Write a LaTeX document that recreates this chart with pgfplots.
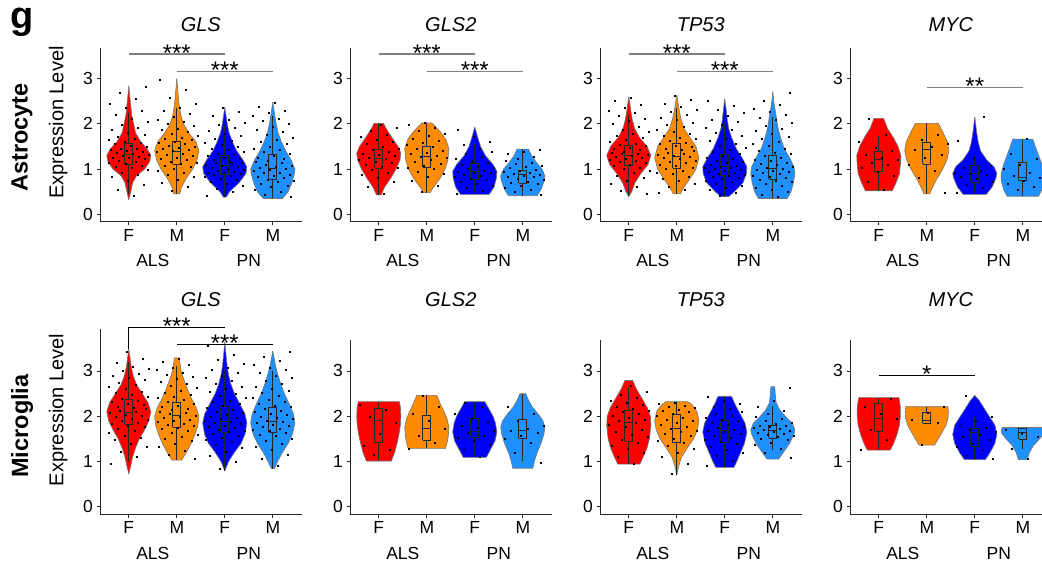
\documentclass[border=0pt]{standalone}
\usepackage{pgfplots}
\pgfplotsset{compat=1.18}
\usepgfplotslibrary{fillbetween}
\usepackage{pgfplotstable}
\usepackage{fontspec}
\setmainfont{Liberation Sans}

\definecolor{cR}{HTML}{FF0000}
\definecolor{cO}{HTML}{FF8C00}
\definecolor{cB}{HTML}{0000FF}
\definecolor{cL}{HTML}{1E90FF}

\newcommand{\fT}{\fontsize{17.5}{20}\selectfont}
\newcommand{\fS}{\fontsize{24}{26}\selectfont}

% ---------- Astrocyte GLS
\pgfplotstableread{
y w
0.32 0
0.5 0.04
0.7 0.08
0.85 0.16
1.0 0.33
1.15 0.43
1.3 0.46
1.45 0.38
1.6 0.25
1.8 0.14
2.0 0.10
2.2 0.06
2.5 0.03
2.84 0
}\AGa
\pgfplotstableread{
y w
0.45 0
0.45 0.06
0.6 0.10
0.8 0.20
1.0 0.33
1.2 0.42
1.4 0.46
1.6 0.40
1.8 0.25
2.0 0.14
2.2 0.08
2.5 0.04
3.0 0
}\AGb
\pgfplotstableread{
y w
0.38 0
0.38 0.03
0.5 0.10
0.7 0.30
0.9 0.44
1.05 0.46
1.2 0.38
1.4 0.25
1.6 0.16
1.8 0.09
2.0 0.05
2.37 0
}\AGc
\pgfplotstableread{
y w
0.35 0
0.35 0.20
0.5 0.32
0.7 0.40
0.9 0.45
1.0 0.46
1.2 0.38
1.4 0.27
1.6 0.18
1.8 0.11
2.0 0.07
2.2 0.04
2.48 0
}\AGd
% ---------- Astrocyte GLS2
\pgfplotstableread{
y w
0.43 0
0.43 0.05
0.6 0.12
0.8 0.25
1.0 0.36
1.2 0.44
1.35 0.46
1.5 0.40
1.7 0.27
1.9 0.15
2.01 0.10
2.01 0
}\AHa
\pgfplotstableread{
y w
0.48 0
0.48 0.07
0.6 0.14
0.8 0.28
1.0 0.38
1.2 0.44
1.45 0.46
1.65 0.40
1.8 0.30
1.95 0.17
2.02 0.10
2.02 0
}\AHb
\pgfplotstableread{
y w
0.44 0
0.44 0.30
0.6 0.40
0.8 0.45
0.95 0.46
1.1 0.38
1.3 0.22
1.5 0.12
1.7 0.06
1.93 0
}\AHc
\pgfplotstableread{
y w
0.41 0
0.41 0.30
0.55 0.38
0.75 0.45
0.85 0.46
1.0 0.40
1.15 0.28
1.3 0.18
1.44 0.12
1.44 0
}\AHd
% ---------- Astrocyte TP53
\pgfplotstableread{
y w
0.39 0
0.5 0.06
0.7 0.13
0.9 0.25
1.1 0.40
1.3 0.46
1.5 0.38
1.7 0.22
1.9 0.12
2.1 0.07
2.3 0.04
2.6 0
}\ATa
\pgfplotstableread{
y w
0.45 0
0.45 0.07
0.6 0.15
0.8 0.28
1.0 0.40
1.25 0.46
1.5 0.40
1.7 0.27
1.9 0.15
2.1 0.09
2.3 0.05
2.64 0
}\ATb
\pgfplotstableread{
y w
0.39 0
0.39 0.08
0.5 0.20
0.7 0.38
0.9 0.45
1.05 0.46
1.25 0.36
1.45 0.24
1.7 0.14
1.9 0.08
2.1 0.05
2.3 0.03
2.55 0
}\ATc
\pgfplotstableread{
y w
0.35 0
0.35 0.30
0.5 0.38
0.7 0.43
0.9 0.46
1.05 0.44
1.25 0.35
1.45 0.24
1.7 0.16
1.9 0.11
2.1 0.08
2.3 0.05
2.5 0.02
2.71 0
}\ATd
% ---------- Astrocyte MYC
\pgfplotstableread{
y w
0.52 0
0.52 0.28
0.7 0.36
0.9 0.43
1.1 0.45
1.3 0.46
1.5 0.40
1.7 0.30
1.9 0.18
2.12 0.10
2.12 0
}\AMa
\pgfplotstableread{
y w
0.45 0
0.45 0.06
0.6 0.12
0.8 0.22
1.0 0.33
1.2 0.42
1.4 0.46
1.6 0.43
1.8 0.34
2.01 0.24
2.01 0
}\AMb
\pgfplotstableread{
y w
0.44 0
0.44 0.24
0.6 0.36
0.8 0.44
0.9 0.46
1.05 0.40
1.2 0.25
1.4 0.12
1.6 0.07
1.8 0.04
2.15 0
}\AMc
\pgfplotstableread{
y w
0.40 0
0.40 0.33
0.55 0.40
0.75 0.45
0.9 0.45
1.1 0.40
1.3 0.33
1.5 0.26
1.66 0.21
1.66 0
}\AMd
% ---------- Microglia GLS
\pgfplotstableread{
y w
0.72 0
0.9 0.04
1.1 0.08
1.3 0.14
1.5 0.22
1.7 0.33
1.9 0.42
2.1 0.46
2.3 0.40
2.5 0.28
2.7 0.16
2.9 0.09
3.1 0.05
3.49 0
}\MGa
\pgfplotstableread{
y w
1.03 0
1.03 0.10
1.2 0.20
1.4 0.30
1.6 0.38
1.8 0.44
2.0 0.46
2.2 0.40
2.4 0.30
2.6 0.22
2.8 0.15
3.0 0.09
3.29 0.05
3.29 0
}\MGb
\pgfplotstableread{
y w
0.79 0
1.0 0.08
1.2 0.20
1.4 0.34
1.6 0.42
1.85 0.46
2.05 0.42
2.3 0.30
2.5 0.20
2.7 0.13
2.9 0.08
3.1 0.05
3.3 0.03
3.64 0
}\MGc
\pgfplotstableread{
y w
0.84 0
0.84 0.03
1.0 0.10
1.2 0.20
1.4 0.32
1.6 0.41
1.85 0.46
2.05 0.43
2.3 0.33
2.5 0.24
2.7 0.17
2.9 0.11
3.1 0.06
3.44 0
}\MGd
% ---------- Microglia GLS2
\pgfplotstableread{
y w
1.01 0
1.01 0.26
1.2 0.33
1.4 0.38
1.6 0.42
1.8 0.45
2.0 0.46
2.2 0.45
2.32 0.43
2.32 0
}\MHa
\pgfplotstableread{
y w
1.29 0
1.29 0.39
1.45 0.43
1.6 0.45
1.76 0.46
1.95 0.42
2.1 0.36
2.25 0.29
2.38 0.24
2.46 0.21
2.46 0
}\MHb
\pgfplotstableread{
y w
1.09 0
1.09 0.24
1.25 0.32
1.45 0.42
1.65 0.46
1.85 0.43
2.0 0.38
2.15 0.30
2.32 0.21
2.32 0
}\MHc
\pgfplotstableread{
y w
0.85 0
0.85 0.21
1.0 0.24
1.2 0.30
1.4 0.38
1.6 0.44
1.76 0.46
1.9 0.42
2.05 0.32
2.2 0.20
2.35 0.12
2.5 0.06
2.5 0
}\MHd
% ---------- Microglia TP53
\pgfplotstableread{
y w
0.94 0
0.94 0.23
1.1 0.30
1.3 0.38
1.5 0.43
1.8 0.46
2.0 0.45
2.2 0.38
2.4 0.27
2.6 0.16
2.79 0.08
2.79 0
}\MTa
\pgfplotstableread{
y w
0.70 0
0.9 0.04
1.1 0.10
1.3 0.22
1.5 0.35
1.7 0.43
1.9 0.46
2.1 0.42
2.25 0.32
2.32 0.23
2.32 0
}\MTb
\pgfplotstableread{
y w
0.87 0
0.87 0.19
1.0 0.25
1.2 0.33
1.4 0.41
1.65 0.46
1.85 0.42
2.05 0.32
2.25 0.22
2.44 0.14
2.44 0
}\MTc
\pgfplotstableread{
y w
1.05 0
1.05 0.12
1.2 0.22
1.4 0.35
1.6 0.44
1.7 0.46
1.85 0.40
2.0 0.26
2.15 0.14
2.3 0.07
2.5 0.05
2.65 0.04
2.65 0
}\MTd
% ---------- Microglia MYC
\pgfplotstableread{
y w
1.25 0
1.25 0.24
1.4 0.31
1.6 0.38
1.8 0.43
2.0 0.45
2.2 0.45
2.41 0.42
2.41 0
}\MMa
\pgfplotstableread{
y w
1.36 0
1.36 0.16
1.5 0.24
1.65 0.32
1.8 0.40
1.95 0.44
2.1 0.45
2.21 0.44
2.21 0
}\MMb
\pgfplotstableread{
y w
1.04 0
1.04 0.22
1.2 0.32
1.4 0.42
1.6 0.46
1.8 0.42
2.0 0.30
2.2 0.18
2.35 0.09
2.46 0
}\MMc
\pgfplotstableread{
y w
1.04 0
1.04 0.09
1.2 0.14
1.35 0.22
1.5 0.35
1.62 0.44
1.70 0.45
1.75 0.42
1.75 0
}\MMd

% ---------- jittered cells: d,e = horizontal jitter; other columns = expression values
% Aa..Ad astro GLS, Ta..Td astro TP53, Ma..Md microglia GLS
\pgfplotstableread{
d e Aa Ab Ac Ad Ta Tb Tc Td Ma Mb Mc Md
0.104 -0.380 0.42 0.52 0.42 0.38 0.45 0.48 0.42 0.38 0.95 1.06 0.85 0.90
-0.232 0.164 0.55 0.62 0.50 0.44 0.52 0.55 0.48 0.44 1.10 1.15 1.00 1.05
0.312 -0.172 0.66 0.70 0.57 0.50 0.60 0.62 0.54 0.49 1.22 1.24 1.12 1.16
-0.025 0.371 0.75 0.77 0.63 0.55 0.67 0.68 0.59 0.54 1.32 1.32 1.22 1.25
-0.361 0.035 0.82 0.83 0.68 0.60 0.74 0.74 0.64 0.59 1.40 1.39 1.30 1.33
0.183 -0.301 0.88 0.88 0.72 0.64 0.80 0.79 0.68 0.63 1.47 1.45 1.37 1.40
-0.153 0.243 0.93 0.93 0.76 0.68 0.86 0.84 0.72 0.67 1.53 1.50 1.43 1.46
0.391 -0.093 0.98 0.97 0.79 0.71 0.91 0.89 0.75 0.71 1.58 1.55 1.48 1.51
0.055 -0.429 1.02 1.01 0.82 0.74 0.96 0.93 0.78 0.74 1.63 1.60 1.53 1.56
-0.282 0.114 1.05 1.05 0.85 0.77 1.00 0.97 0.81 0.77 1.68 1.64 1.57 1.60
0.262 -0.222 1.08 1.08 0.87 0.80 1.04 1.01 0.84 0.80 1.72 1.68 1.61 1.64
-0.074 0.322 1.11 1.11 0.89 0.83 1.07 1.04 0.86 0.83 1.76 1.72 1.65 1.67
-0.410 -0.014 1.14 1.14 0.91 0.86 1.10 1.07 0.88 0.86 1.80 1.75 1.68 1.70
0.134 -0.350 1.17 1.17 0.93 0.88 1.13 1.10 0.90 0.89 1.83 1.78 1.71 1.73
-0.202 0.194 1.19 1.20 0.95 0.91 1.16 1.13 0.92 0.92 1.86 1.81 1.74 1.76
0.341 -0.143 1.22 1.23 0.97 0.93 1.19 1.16 0.94 0.95 1.89 1.84 1.77 1.79
0.005 0.401 1.24 1.26 0.99 0.96 1.21 1.19 0.96 0.97 1.92 1.87 1.80 1.82
-0.331 0.065 1.26 1.29 1.01 0.98 1.23 1.22 0.98 0.99 1.95 1.90 1.83 1.85
0.213 -0.271 1.28 1.32 1.03 1.00 1.25 1.25 1.00 1.01 1.98 1.93 1.86 1.88
-0.123 0.273 1.30 1.35 1.05 1.02 1.27 1.27 1.02 1.03 2.01 1.96 1.88 1.91
0.421 -0.063 1.32 1.38 1.07 1.05 1.29 1.29 1.04 1.06 2.04 1.99 1.91 1.94
0.084 -0.400 1.34 1.40 1.09 1.07 1.31 1.31 1.06 1.09 2.07 2.02 1.94 1.97
-0.252 0.144 1.36 1.42 1.11 1.10 1.33 1.34 1.08 1.12 2.10 2.05 1.97 2.00
0.292 -0.192 1.38 1.45 1.13 1.13 1.35 1.37 1.10 1.15 2.13 2.08 2.00 2.03
-0.044 0.352 1.40 1.47 1.15 1.16 1.37 1.40 1.13 1.18 2.16 2.11 2.03 2.06
-0.380 0.104 1.42 1.50 1.17 1.19 1.39 1.43 1.16 1.21 2.19 2.14 2.07 2.09
0.164 -0.232 1.44 1.52 1.20 1.22 1.42 1.46 1.19 1.25 2.22 2.17 2.11 2.12
-0.172 0.312 1.46 1.55 1.23 1.26 1.45 1.49 1.22 1.29 2.25 2.20 2.15 2.16
0.371 -0.025 1.49 1.58 1.26 1.30 1.48 1.52 1.26 1.33 2.28 2.24 2.19 2.20
0.035 -0.361 1.52 1.61 1.29 1.34 1.51 1.55 1.30 1.37 2.31 2.28 2.23 2.24
-0.301 0.183 1.55 1.64 1.32 1.38 1.54 1.58 1.34 1.41 2.35 2.32 2.27 2.28
0.243 -0.153 1.58 1.67 1.35 1.42 1.57 1.62 1.38 1.46 2.39 2.36 2.31 2.32
-0.093 0.391 1.61 1.70 1.38 1.46 1.61 1.66 1.42 1.51 2.43 2.40 2.35 2.36
-0.429 0.055 1.64 1.74 1.42 1.50 1.65 1.70 1.47 1.56 2.47 2.44 2.40 2.41
0.114 -0.282 1.68 1.78 1.46 1.55 1.69 1.74 1.52 1.61 2.51 2.48 2.45 2.46
-0.222 0.262 1.72 1.82 1.50 1.60 1.73 1.78 1.57 1.66 2.55 2.52 2.50 2.51
0.322 -0.074 1.76 1.86 1.54 1.65 1.78 1.83 1.62 1.72 2.60 2.57 2.55 2.56
-0.014 -0.410 1.81 1.90 1.58 1.70 1.83 1.88 1.68 1.78 2.65 2.62 2.60 2.61
-0.350 0.134 1.86 1.95 1.63 1.76 1.88 1.93 1.74 1.84 2.70 2.67 2.66 2.66
0.194 -0.202 1.92 2.00 1.68 1.82 1.94 1.98 1.80 1.90 2.75 2.72 2.72 2.72
-0.143 0.341 1.98 2.05 1.73 1.88 2.00 2.03 1.86 1.96 2.80 2.77 2.78 2.78
0.401 0.005 2.05 2.10 1.79 1.94 2.06 2.08 1.92 2.02 2.85 2.82 2.84 2.84
0.065 -0.331 2.12 2.16 1.85 2.00 2.12 2.14 1.98 2.08 2.90 2.87 2.90 2.90
-0.271 0.213 2.20 2.22 1.91 2.06 2.18 2.20 2.04 2.14 2.95 2.92 2.96 2.96
0.273 -0.123 2.28 2.28 1.97 2.12 2.24 2.26 2.10 2.20 3.00 2.97 3.02 3.02
-0.063 0.421 2.36 2.35 2.03 2.18 2.30 2.32 2.17 2.27 3.05 3.02 3.08 3.08
-0.400 0.084 2.45 2.45 2.10 2.24 2.36 2.38 2.24 2.34 3.10 3.08 3.15 3.14
0.144 -0.252 2.55 2.58 2.18 2.30 2.42 2.45 2.31 2.42 3.18 3.14 3.24 3.22
-0.192 0.292 2.68 2.75 2.27 2.38 2.50 2.53 2.40 2.52 3.28 3.20 3.36 3.32
0.352 -0.044 2.82 2.98 2.36 2.46 2.58 2.62 2.52 2.68 3.42 3.27 3.55 3.42
}\JD
% Ha..Hd astro GLS2, Qa..Qd microglia TP53
\pgfplotstableread{
d e Ha Hb Hc Hd Qa Qb Qc Qd
0.104 -0.380 0.46 0.50 0.46 0.43 0.96 0.72 0.90 1.08
-0.232 0.164 0.62 0.64 0.52 0.49 1.10 0.95 1.02 1.20
0.312 -0.172 0.72 0.74 0.58 0.54 1.20 1.10 1.12 1.29
-0.025 0.371 0.80 0.82 0.63 0.59 1.28 1.20 1.20 1.36
-0.361 0.035 0.87 0.89 0.68 0.63 1.35 1.28 1.27 1.42
0.183 -0.301 0.93 0.95 0.72 0.67 1.42 1.35 1.33 1.47
-0.153 0.243 0.98 1.00 0.76 0.70 1.48 1.41 1.39 1.51
0.391 -0.093 1.02 1.04 0.79 0.73 1.54 1.46 1.44 1.54
0.055 -0.429 1.06 1.08 0.82 0.76 1.60 1.51 1.49 1.57
-0.282 0.114 1.10 1.12 0.85 0.79 1.66 1.56 1.53 1.60
0.262 -0.222 1.13 1.16 0.88 0.82 1.71 1.61 1.57 1.62
-0.074 0.322 1.17 1.20 0.91 0.84 1.76 1.65 1.61 1.64
-0.410 -0.014 1.20 1.24 0.93 0.86 1.81 1.69 1.65 1.66
0.134 -0.350 1.23 1.27 0.95 0.88 1.85 1.73 1.68 1.68
-0.202 0.194 1.26 1.30 0.97 0.90 1.89 1.77 1.71 1.70
0.341 -0.143 1.29 1.33 1.00 0.92 1.93 1.81 1.74 1.72
0.005 0.401 1.32 1.37 1.03 0.94 1.97 1.85 1.77 1.74
-0.331 0.065 1.35 1.41 1.06 0.96 2.01 1.89 1.81 1.76
0.213 -0.271 1.38 1.45 1.09 0.99 2.05 1.93 1.85 1.78
-0.123 0.273 1.42 1.49 1.13 1.02 2.09 1.97 1.89 1.80
0.421 -0.063 1.46 1.53 1.17 1.05 2.13 2.01 1.93 1.83
0.084 -0.400 1.50 1.58 1.22 1.08 2.17 2.05 1.97 1.86
-0.252 0.144 1.55 1.63 1.27 1.11 2.21 2.09 2.01 1.90
0.292 -0.192 1.60 1.68 1.33 1.15 2.25 2.12 2.06 1.94
-0.044 0.352 1.65 1.73 1.39 1.19 2.30 2.15 2.11 1.99
-0.380 0.104 1.71 1.79 1.46 1.23 2.35 2.18 2.16 2.05
0.164 -0.232 1.77 1.85 1.53 1.28 2.41 2.21 2.21 2.12
-0.172 0.312 1.84 1.91 1.61 1.33 2.47 2.24 2.27 2.20
0.371 -0.025 1.91 1.97 1.72 1.38 2.55 2.27 2.34 2.35
0.035 -0.361 1.99 2.02 1.88 1.43 2.68 2.30 2.42 2.62
}\JM
% Ya..Yd astro MYC, Ga..Gd microglia GLS2, Za..Zd microglia MYC
\pgfplotstableread{
d e Ya Yb Yc Yd Ga Gb Gc Gd Za Zb Zc Zd
0.104 -0.380 0.55 0.48 0.47 0.55 1.15 1.28 1.10 0.98 1.26 1.38 1.05 1.05
-0.232 0.164 0.72 0.80 0.58 0.62 1.25 1.42 1.25 1.20 1.48 1.85 1.12 1.28
0.312 -0.172 0.85 0.97 0.66 0.68 1.35 1.58 1.38 1.42 1.70 1.92 1.25 1.55
-0.025 0.371 0.95 1.10 0.72 0.74 1.62 1.72 1.45 1.50 1.95 2.08 1.32 1.62
-0.361 0.035 1.02 1.25 0.78 0.80 1.85 1.90 1.52 1.58 2.05 2.20 1.40 1.70
0.183 -0.301 1.10 1.32 0.83 0.86 2.00 2.05 1.58 1.63 2.22 nan 1.48 nan
-0.153 0.243 1.15 1.42 0.87 0.93 2.15 2.20 1.63 1.67 2.38 nan 1.55 nan
0.391 -0.093 1.20 1.50 0.90 1.00 2.25 2.45 1.68 1.72 nan nan 1.60 nan
0.055 -0.429 1.25 1.55 0.93 1.10 nan nan 1.75 1.80 nan nan 1.65 nan
-0.282 0.114 1.32 1.65 0.97 1.22 nan nan 1.80 1.90 nan nan 1.70 nan
0.262 -0.222 1.40 1.75 1.02 1.35 nan nan 1.88 2.05 nan nan 1.75 nan
-0.074 0.322 1.47 nan 1.08 1.66 nan nan 1.95 2.22 nan nan 1.80 nan
-0.410 -0.014 1.60 nan 1.25 nan nan nan 2.05 nan nan nan 1.90 nan
0.134 -0.350 1.75 nan 1.62 nan nan nan 2.20 nan nan nan 2.00 nan
-0.202 0.194 2.12 nan 2.15 nan nan nan 2.30 nan nan nan 2.45 nan
}\JS

\pgfplotsset{
  vline/.style={draw=black!55, line width=0.6pt, no marks},
  vstyle/.style={
    x=48pt, y=45.25pt, xmin=0.4, xmax=4.6, ymin=-0.17, ymax=3.68,
    scale only axis, anchor=south west, clip=false, set layers,
    axis x line*=bottom, axis y line*=left,
    axis line style={black!85, line width=1pt},
    xtick={1,2,3,4}, xticklabels={F,M,F,M}, ytick={0,1,2,3},
    tick align=outside, major tick length=3.5pt,
    tick style={black!85, line width=0.8pt},
    ticklabel style={font=\fT},
    /pgf/number format/assume math mode=true,
  }
}

\newcommand{\violin}[4]{%
  \addplot[vline, name path=vr#4] table[x expr={#1+\thisrow{w}}, y=y]{#3};
  \addplot[vline, name path=vl#4] table[x expr={#1-\thisrow{w}}, y=y]{#3};
  \addplot[fill=#2, draw=none] fill between[of=vr#4 and vl#4];
}
\newcommand{\jit}[5]{%
  \addplot[only marks, mark=square*, mark size=0.5pt, mark options={draw=none, fill=black}]
    table[x expr={#2#3\thisrow{#4}}, y=#5]{#1};
}
\newcommand{\vbp}[7]{%
  \addplot[black!85, line width=0.8pt] table[row sep=\\, x expr={#1}, y=y]{y\\ #3\\ #7\\};
  \addplot[fill=#2, draw=black!85, line width=0.9pt] table[row sep=\\, x expr={#1+\thisrow{d}}, y=y]{d y\\ -0.085 #4\\ 0.085 #4\\ 0.085 #6\\ -0.085 #6\\ -0.085 #4\\};
  \addplot[black!85, line width=0.9pt] table[row sep=\\, x expr={#1+\thisrow{d}}, y=y]{d y\\ -0.085 #5\\ 0.085 #5\\};
}
\newcommand{\sig}[6]{%
  \addplot[#5, line width=#6] table[row sep=\\]{x y\\ #1 #3\\ #2 #3\\}
    node[pos=0.5, anchor=base, yshift=-7pt, font=\fS, text=black] {#4};
}
\newcommand{\grp}{%
  \node[font=\fT, anchor=base, yshift=-44.8pt] at (axis cs:1.5,-0.17) {ALS};
  \node[font=\fT, anchor=base, yshift=-44.8pt] at (axis cs:3.5,-0.17) {PN};
}

\begin{document}
\begin{tikzpicture}

% ===== Astrocyte GLS
\begin{axis}[vstyle, at={(100pt,340pt)}]
  \violin{1}{cR}{\AGa}{aga}
  \violin{2}{cO}{\AGb}{agb}
  \violin{3}{cB}{\AGc}{agc}
  \violin{4}{cL}{\AGd}{agd}
  \jit{\JD}{1}{+}{d}{Aa}
  \jit{\JD}{2}{-}{d}{Ab}
  \jit{\JD}{3}{+}{e}{Ac}
  \jit{\JD}{4}{-}{e}{Ad}
  \vbp{1}{cR}{0.44}{1.11}{1.33}{1.56}{2.23}
  \vbp{2}{cO}{0.45}{1.11}{1.39}{1.61}{2.36}
  \vbp{3}{cB}{0.38}{0.87}{1.09}{1.31}{1.97}
  \vbp{4}{cL}{0.35}{0.76}{1.02}{1.33}{2.18}
  \sig{1}{3}{3.54}{***}{black!50}{1.3pt}
  \sig{2}{4}{3.15}{***}{black!50}{1.3pt}
  \grp
\end{axis}
% ===== Astrocyte GLS2
\begin{axis}[vstyle, at={(350pt,340pt)}]
  \violin{1}{cR}{\AHa}{aha}
  \violin{2}{cO}{\AHb}{ahb}
  \violin{3}{cB}{\AHc}{ahc}
  \violin{4}{cL}{\AHd}{ahd}
  \jit{\JM}{1}{+}{d}{Ha}
  \jit{\JM}{2}{-}{d}{Hb}
  \jit{\JM}{3}{+}{e}{Hc}
  \jit{\JM}{4}{-}{e}{Hd}
  \vbp{1}{cR}{0.43}{1.02}{1.24}{1.44}{2.01}
  \vbp{2}{cO}{0.48}{1.04}{1.28}{1.51}{2.02}
  \vbp{3}{cB}{0.44}{0.78}{0.94}{1.13}{1.56}
  \vbp{4}{cL}{0.41}{0.69}{0.88}{0.98}{1.44}
  \sig{1}{3}{3.54}{***}{black!50}{1.3pt}
  \sig{2}{4}{3.15}{***}{black!50}{1.3pt}
  \grp
\end{axis}
% ===== Astrocyte TP53
\begin{axis}[vstyle, at={(600pt,340pt)}]
  \violin{1}{cR}{\ATa}{ata}
  \violin{2}{cO}{\ATb}{atb}
  \violin{3}{cB}{\ATc}{atc}
  \violin{4}{cL}{\ATd}{atd}
  \jit{\JD}{1}{-}{e}{Ta}
  \jit{\JD}{2}{+}{e}{Tb}
  \jit{\JD}{3}{-}{d}{Tc}
  \jit{\JD}{4}{+}{d}{Td}
  \vbp{1}{cR}{0.40}{1.07}{1.30}{1.52}{2.20}
  \vbp{2}{cO}{0.45}{1.02}{1.28}{1.56}{2.35}
  \vbp{3}{cB}{0.39}{0.85}{1.05}{1.33}{2.05}
  \vbp{4}{cL}{0.35}{0.77}{1.02}{1.31}{2.16}
  \sig{1}{3}{3.54}{***}{black!50}{1.3pt}
  \sig{2}{4}{3.15}{***}{black!50}{1.3pt}
  \grp
\end{axis}
% ===== Astrocyte MYC
\begin{axis}[vstyle, at={(850pt,340pt)}]
  \violin{1}{cR}{\AMa}{ama}
  \violin{2}{cO}{\AMb}{amb}
  \violin{3}{cB}{\AMc}{amc}
  \violin{4}{cL}{\AMd}{amd}
  \jit{\JS}{1}{+}{d}{Ya}
  \jit{\JS}{2}{-}{e}{Yb}
  \jit{\JS}{3}{+}{e}{Yc}
  \jit{\JS}{4}{-}{d}{Yd}
  \vbp{1}{cR}{0.52}{0.94}{1.22}{1.39}{1.72}
  \vbp{2}{cO}{0.45}{1.11}{1.44}{1.59}{2.01}
  \vbp{3}{cB}{0.44}{0.71}{0.91}{1.07}{1.28}
  \vbp{4}{cL}{0.40}{0.74}{0.81}{1.15}{1.66}
  \sig{2}{4}{2.80}{**}{black!50}{1.3pt}
  \grp
\end{axis}

% ===== Microglia GLS
\begin{axis}[vstyle, ymax=3.92, at={(100pt,47.6pt)}]
  \violin{1}{cR}{\MGa}{mga}
  \violin{2}{cO}{\MGb}{mgb}
  \violin{3}{cB}{\MGc}{mgc}
  \violin{4}{cL}{\MGd}{mgd}
  \jit{\JD}{1}{+}{e}{Ma}
  \jit{\JD}{2}{-}{e}{Mb}
  \jit{\JD}{3}{-}{d}{Mc}
  \jit{\JD}{4}{+}{d}{Md}
  \vbp{1}{cR}{0.99}{1.82}{2.08}{2.375}{3.20}
  \vbp{2}{cO}{1.03}{1.76}{2.02}{2.30}{3.10}
  \vbp{3}{cB}{0.80}{1.65}{1.875}{2.22}{3.05}
  \vbp{4}{cL}{0.84}{1.65}{1.875}{2.19}{3.00}
  \addplot[black, line width=0.9pt] table[row sep=\\]{x y\\ 1 3.49\\ 1 3.97\\};
  \sig{1}{3}{3.97}{***}{black}{0.9pt}
  \sig{2}{4}{3.59}{***}{black}{0.9pt}
  \grp
\end{axis}
% ===== Microglia GLS2
\begin{axis}[vstyle, at={(350pt,47.6pt)}]
  \violin{1}{cR}{\MHa}{mha}
  \violin{2}{cO}{\MHb}{mhb}
  \violin{3}{cB}{\MHc}{mhc}
  \violin{4}{cL}{\MHd}{mhd}
  \jit{\JS}{1}{-}{d}{Ga}
  \jit{\JS}{2}{+}{e}{Gb}
  \jit{\JS}{3}{+}{d}{Gc}
  \jit{\JS}{4}{-}{e}{Gd}
  \vbp{1}{cR}{1.01}{1.41}{1.91}{2.18}{2.32}
  \vbp{2}{cO}{1.29}{1.47}{1.74}{2.01}{2.46}
  \vbp{3}{cB}{1.09}{1.54}{1.67}{1.95}{2.32}
  \vbp{4}{cL}{1.00}{1.51}{1.68}{1.93}{2.50}
  \grp
\end{axis}
% ===== Microglia TP53
\begin{axis}[vstyle, at={(600pt,47.6pt)}]
  \violin{1}{cR}{\MTa}{mta}
  \violin{2}{cO}{\MTb}{mtb}
  \violin{3}{cB}{\MTc}{mtc}
  \violin{4}{cL}{\MTd}{mtd}
  \jit{\JM}{1}{+}{d}{Qa}
  \jit{\JM}{2}{-}{d}{Qb}
  \jit{\JM}{3}{+}{e}{Qc}
  \jit{\JM}{4}{-}{e}{Qd}
  \vbp{1}{cR}{0.94}{1.45}{1.87}{2.12}{2.65}
  \vbp{2}{cO}{0.70}{1.41}{1.74}{2.04}{2.32}
  \vbp{3}{cB}{0.87}{1.43}{1.69}{1.90}{2.44}
  \vbp{4}{cL}{1.25}{1.51}{1.68}{1.80}{2.23}
  \grp
\end{axis}
% ===== Microglia MYC
\begin{axis}[vstyle, at={(850pt,47.6pt)}]
  \violin{1}{cR}{\MMa}{mma}
  \violin{2}{cO}{\MMb}{mmb}
  \violin{3}{cB}{\MMc}{mmc}
  \violin{4}{cL}{\MMd}{mmd}
  \jit{\JS}{1}{+}{e}{Za}
  \jit{\JS}{2}{-}{d}{Zb}
  \jit{\JS}{3}{-}{e}{Zc}
  \jit{\JS}{4}{+}{d}{Zd}
  \vbp{1}{cR}{1.25}{1.67}{1.95}{2.28}{2.41}
  \vbp{2}{cO}{1.84}{1.84}{1.90}{2.08}{2.21}
  \vbp{3}{cB}{1.04}{1.34}{1.63}{1.74}{1.99}
  \vbp{4}{cL}{1.28}{1.49}{1.63}{1.72}{1.72}
  \sig{1}{3}{2.91}{*}{black}{0.9pt}
  \grp
\end{axis}

% ===== titles and labels
\foreach \xx/\tt in {200.8/GLS,450.8/GLS2,700.8/TP53,950.8/MYC}{
  \node[anchor=base, font=\fontsize{20}{22}\selectfont\itshape] at (\xx pt,530.3pt) {\tt};
  \node[anchor=base, font=\fontsize{20}{22}\selectfont\itshape] at (\xx pt,255.3pt) {\tt};
}
\node[rotate=90, font=\fontsize{20}{22}\selectfont] at (58.3pt,439.5pt) {Expression Level};
\node[rotate=90, font=\fontsize{20}{22}\selectfont] at (58.3pt,152pt) {Expression Level};
\node[rotate=90, font=\fontsize{23.5}{26}\selectfont\bfseries] at (22pt,424.5pt) {Astrocyte};
\node[rotate=90, font=\fontsize{23.5}{26}\selectfont\bfseries] at (22pt,136pt) {Microglia};
\node[anchor=base west, inner sep=0pt, font=\fontsize{38}{40}\selectfont\bfseries] at (10pt,533.5pt) {g};
\pgfresetboundingbox
\path (0pt,0pt) rectangle (1042pt,562pt);
\end{tikzpicture}
\end{document}
